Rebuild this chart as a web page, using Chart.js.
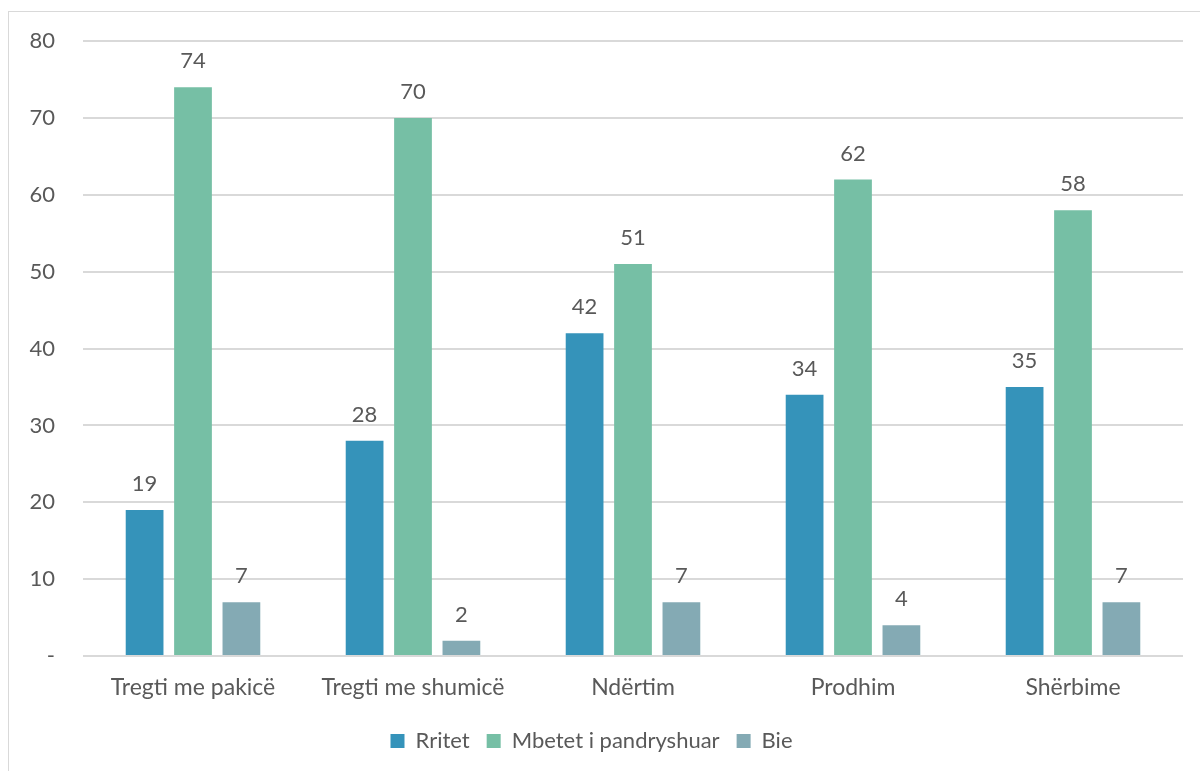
<!DOCTYPE html>
<html>
<head>
<meta charset="utf-8">
<script src="https://cdn.jsdelivr.net/npm/chart.js@4.4.0/dist/chart.umd.min.js"></script>
<style>
  html, body { margin: 0; padding: 0; background: #fff; overflow: hidden; }
  #frame { position: absolute; left: 8px; top: 11px; width: 1300px; height: 900px; border: 1px solid #d9d9d9; }
  #wrap { position: absolute; left: 0; top: 0; width: 1200px; height: 771px; }
</style>
</head>
<body>
<div id="frame"></div>
<div id="wrap"><canvas id="chart" width="1200" height="771"></canvas></div>
<script>
const categories = ['Tregti me pakicë', 'Tregti me shumicë', 'Ndërtim', 'Prodhim', 'Shërbime'];
const seriesNames = ['Rritet', 'Mbetet i pandryshuar', 'Bie'];
const rritet = [19, 28, 42, 34, 35];
const mbetet = [74, 70, 51, 62, 58];
const bie = [7, 2, 7, 4, 7];
const yTicks = [0, 10, 20, 30, 40, 50, 60, 70, 80];

const colors = ['#3593ba', '#76bfa5', '#84aab4'];
const textColor = '#595959';
const fontFamily = 'Lato, "Open Sans", sans-serif';

// value labels above the bars
const valueLabels = {
  id: 'valueLabels',
  afterDatasetsDraw(chart) {
    const ctx = chart.ctx;
    ctx.save();
    ctx.fillStyle = textColor;
    ctx.font = '22px ' + fontFamily;
    ctx.textAlign = 'center';
    ctx.textBaseline = 'middle';
    chart.data.datasets.forEach((ds, i) => {
      chart.getDatasetMeta(i).data.forEach((bar, j) => {
        ctx.fillText(ds.data[j], bar.x, bar.y - 26);
      });
    });
    ctx.restore();
  }
};

new Chart(document.getElementById('chart'), {
  type: 'bar',
  data: {
    labels: categories,
    datasets: [rritet, mbetet, bie].map((d, i) => ({
      label: seriesNames[i],
      data: d,
      backgroundColor: colors[i],
      categoryPercentage: 0.66,
      barPercentage: 0.78
    }))
  },
  options: {
    responsive: false,
    animation: false,
    layout: { padding: { top: 40, right: 17, bottom: 9, left: 0 } },
    plugins: {
      legend: {
        position: 'bottom',
        labels: {
          boxWidth: 14,
          boxHeight: 14,
          padding: 17,
          color: textColor,
          font: { family: fontFamily, size: 22 }
        }
      },
      tooltip: { enabled: false }
    },
    scales: {
      x: {
        grid: { display: false, drawTicks: false },
        border: { display: false },
        ticks: { color: textColor, padding: 18, font: { family: fontFamily, size: 23 } },
        afterFit(scale) { scale.height = 57; }
      },
      y: {
        min: 0,
        max: 80,
        afterBuildTicks(scale) { scale.ticks = yTicks.map(v => ({ value: v })); },
        grid: { color: '#d9d9d9', lineWidth: 2, drawTicks: false },
        border: { display: false },
        ticks: {
          color: textColor,
          padding: 28,
          font: { family: fontFamily, size: 22 },
          callback: v => v === 0 ? '-' : v
        },
        afterFit(scale) { scale.width = 83; }
      }
    }
  },
  plugins: [valueLabels]
});
</script>
</body>
</html>
